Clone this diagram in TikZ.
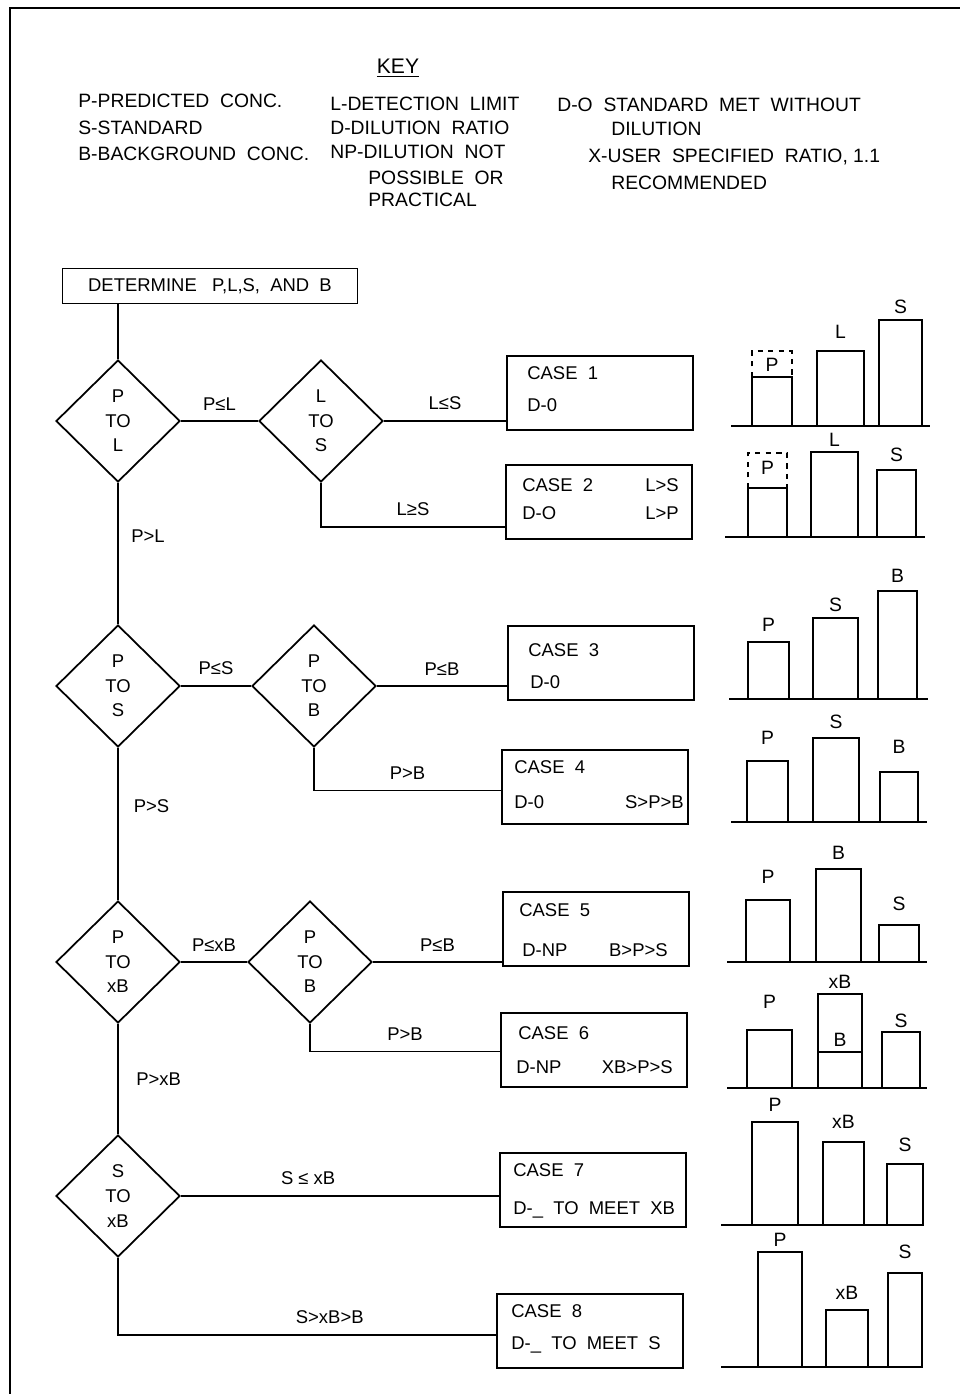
\documentclass[tikz,border=0pt]{standalone}
\usepackage{fontspec}
\setmainfont{Liberation Sans}
\usetikzlibrary{shapes.geometric,positioning}
\tikzset{
  flowline/.style={line width=1pt},
  decision/.style={draw, diamond, line width=1pt, inner sep=0pt,
    minimum width=2.48cm, minimum height=2.44cm, align=center,
    font=\fontsize{10.5}{14}\selectfont},
  casebox/.style={draw, rectangle, line width=1pt,
    minimum width=3.72cm, minimum height=1.48cm},
  txt/.style={font=\fontsize{10.5}{12}\selectfont, inner sep=0pt},
  keytxt/.style={font=\fontsize{11}{12}\selectfont, inner sep=0pt, anchor=west},
  bar/.style={line width=1pt},
}

\begin{document}
\begin{tikzpicture}[x=0.02cm, y=-0.02cm]
    \useasboundingbox (0,0) rectangle (960,1394);
    % Frame
    \draw[line width=1.6pt] (10,1394) -- (10,8) -- (960,8);
    % Key
    \node[txt, font=\fontsize{12}{14}\selectfont] (key) at (398,68) {\underline{KEY}};
    \node[keytxt] (kp) at (78,101) {P-PREDICTED\ \ CONC.};
    \node[keytxt] (ks) at (78,128) {S-STANDARD};
    \node[keytxt] (kb) at (78,154) {B-BACKGROUND\ \ CONC.};
    \node[keytxt] (kl) at (330,104) {L-DETECTION\ \ LIMIT};
    \node[keytxt] (kd) at (330,128) {D-DILUTION\ \ RATIO};
    \node[keytxt] (knp) at (330,152) {NP-DILUTION\ \ NOT};
    \node[keytxt] (knp2) at (368,178) {POSSIBLE\ \ OR};
    \node[keytxt] (knp3) at (368,200) {PRACTICAL};
    \node[keytxt] (kdo) at (557,105) {D-O\ \ STANDARD\ \ MET\ \ WITHOUT};
    \node[keytxt] (kdo2) at (611,129) {DILUTION};
    \node[keytxt] (kx) at (588,157) {X-USER\ \ SPECIFIED\ \ RATIO,\ 1.1};
    \node[keytxt] (kx2) at (611,183) {RECOMMENDED};

    % Start box
    \node[draw, line width=1pt, minimum width=5.9cm, minimum height=0.7cm, txt]
      (start) at (210,286) {DETERMINE\ \ \ P,L,S,\ \ AND\ \ B};

    % Decisions
    \node[decision] (d1) at (118,421) {P\\TO\\L};
    \node[decision] (d2) at (321,421) {L\\TO\\S};
    \node[decision] (d3) at (118,686) {P\\TO\\S};
    \node[decision] (d4) at (314,686) {P\\TO\\B};
    \node[decision] (d5) at (118,962) {P\\TO\\xB};
    \node[decision] (d6) at (310,962) {P\\TO\\B};
    \node[decision] (d7) at (118,1196) {S\\TO\\xB};

    % Case boxes
    \node[casebox] (case1) at (600,393) {};
    \node[casebox] (case2) at (599,502) {};
    \node[casebox] (case3) at (601,663) {};
    \node[casebox] (case4) at (595,787) {};
    \node[casebox] (case5) at (596,929) {};
    \node[casebox] (case6) at (594,1050) {};
    \node[casebox] (case7) at (593,1190) {};
    \node[casebox] (case8) at (590,1331) {};

    % Case texts
    \node[txt, anchor=west] (c1a) at (527,373) {CASE\ \ 1};
    \node[txt, anchor=west] (c1b) at (527,405) {D-0};
    \node[txt, anchor=west] (c2a) at (522,485) {CASE\ \ 2};
    \node[txt, anchor=east] (c2b) at (679,485) {L>S};
    \node[txt, anchor=west] (c2c) at (522,513) {D-O};
    \node[txt, anchor=east] (c2d) at (679,513) {L>P};
    \node[txt, anchor=west] (c3a) at (528,650) {CASE\ \ 3};
    \node[txt, anchor=west] (c3b) at (530,682) {D-0};
    \node[txt, anchor=west] (c4a) at (514,767) {CASE\ \ 4};
    \node[txt, anchor=west] (c4b) at (514,802) {D-0};
    \node[txt, anchor=east] (c4c) at (684,802) {S>P>B};
    \node[txt, anchor=west] (c5a) at (519,910) {CASE\ \ 5};
    \node[txt, anchor=west] (c5b) at (522,950) {D-NP};
    \node[txt, anchor=east] (c5c) at (668,950) {B>P>S};
    \node[txt, anchor=west] (c6a) at (518,1033) {CASE\ \ 6};
    \node[txt, anchor=west] (c6b) at (516,1067) {D-NP};
    \node[txt, anchor=east] (c6c) at (673,1067) {XB>P>S};
    \node[txt, anchor=west] (c7a) at (513,1170) {CASE\ \ 7};
    \node[txt, anchor=west] (c7b) at (513,1210) {D-\_\ \ TO\ \ MEET\ \ XB};
    \node[txt, anchor=west] (c8a) at (511,1311) {CASE\ \ 8};
    \node[txt, anchor=west] (c8b) at (511,1345) {D-\_\ \ TO\ \ MEET\ \ S};

    % Connectors
    \draw[flowline] (start.south -| d1.north) -- (d1.north);
    \draw[flowline] (d1.east) -- (d2.west)
      node[midway, above=0.2cm, txt] {P≤L};
    \draw[flowline] (d2.east) -- (d2.east -| case1.west)
      node[midway, above=0.2cm, txt] {L≤S};
    \draw[flowline] (d2.south) |- ([yshift=-0.5cm]case2.west)
      node[pos=0.75, above=0.2cm, txt] {L≥S};
    \draw[flowline] (d1.south) -- (d3.north)
      node[pos=0.38, right=0.25cm, txt] {P>L};
    \draw[flowline] (d3.east) -- (d4.west)
      node[midway, above=0.2cm, txt] {P≤S};
    \draw[flowline] (d4.east) -- (d4.east -| case3.west)
      node[midway, above=0.2cm, txt] {P≤B};
    \draw[flowline] (d4.south) |- ([yshift=-0.07cm]case4.west)
      node[pos=0.75, above=0.2cm, txt] {P>B};
    \draw[flowline] (d3.south) -- (d5.north)
      node[pos=0.38, right=0.3cm, txt] {P>S};
    \draw[flowline] (d5.east) -- (d6.west)
      node[midway, above=0.2cm, txt] {P≤xB};
    \draw[flowline] (d6.east) -- (d6.east -| case5.west)
      node[midway, above=0.2cm, txt] {P≤B};
    \draw[flowline] (d6.south) |- ([yshift=-0.03cm]case6.west)
      node[pos=0.75, above=0.2cm, txt] {P>B};
    \draw[flowline] (d5.south) -- (d7.north)
      node[midway, right=0.35cm, txt] {P>xB};
    \draw[flowline] (d7.east) -- (d7.east -| case7.west)
      node[pos=0.4, above=0.2cm, txt] {S ≤ xB};
    \draw[flowline] (d7.south) |- ([yshift=-0.08cm]case8.west)
      node[pos=0.78, above=0.2cm, txt] {S>xB>B};

    % Bar charts: base line, then x1/x2/top/label y/label
    \draw[bar] (731,426) -- (930,426);
    \foreach \xa/\xb/\yt/\ly/\lab in {752/792/377/365/P, 817/864/351/332/L, 879/922/320/307/S}
      \draw[bar] (\xa,426) rectangle (\xb,\yt) node[txt, font=\fontsize{11}{12}\selectfont] at ({(\xa+\xb)/2},\ly) {\lab};
    \draw[bar, dashed] (752,377) -- (752,351) -- (792,351) -- (792,377);

    \draw[bar] (725,537) -- (925,537);
    \foreach \xa/\xb/\yt/\ly/\lab in {748/787/488/468/P, 811/858/452/440/L, 877/916/470/455/S}
      \draw[bar] (\xa,537) rectangle (\xb,\yt) node[txt, font=\fontsize{11}{12}\selectfont] at ({(\xa+\xb)/2},\ly) {\lab};
    \draw[bar, dashed] (748,488) -- (748,453) -- (787,453) -- (787,488);

    \draw[bar] (729,699) -- (928,699);
    \foreach \xa/\xb/\yt/\ly/\lab in {748/789/642/625/P, 813/858/618/605/S, 878/917/591/576/B}
      \draw[bar] (\xa,699) rectangle (\xb,\yt) node[txt, font=\fontsize{11}{12}\selectfont] at ({(\xa+\xb)/2},\ly) {\lab};

    \draw[bar] (731,822) -- (927,822);
    \foreach \xa/\xb/\yt/\ly/\lab in {747/788/761/738/P, 813/859/738/722/S, 880/918/772/747/B}
      \draw[bar] (\xa,822) rectangle (\xb,\yt) node[txt, font=\fontsize{11}{12}\selectfont] at ({(\xa+\xb)/2},\ly) {\lab};

    \draw[bar] (727,962) -- (927,962);
    \foreach \xa/\xb/\yt/\ly/\lab in {746/790/900/877/P, 816/861/869/853/B, 879/919/925/904/S}
      \draw[bar] (\xa,962) rectangle (\xb,\yt) node[txt, font=\fontsize{11}{12}\selectfont] at ({(\xa+\xb)/2},\ly) {\lab};

    \draw[bar] (727,1088) -- (927,1088);
    \foreach \xa/\xb/\yt/\ly/\lab in {747/792/1030/1002/P, 818/862/994/982/xB, 882/920/1032/1021/S}
      \draw[bar] (\xa,1088) rectangle (\xb,\yt) node[txt, font=\fontsize{11}{12}\selectfont] at ({(\xa+\xb)/2},\ly) {\lab};
    \draw[bar] (818,1052) -- (862,1052);
    \node[txt, font=\fontsize{11}{12}\selectfont] (b6) at (840,1040) {B};

    \draw[bar] (721,1225) -- (923,1225);
    \foreach \xa/\xb/\yt/\ly/\lab in {752/798/1122/1105/P, 823/864/1142/1122/xB, 887/923/1164/1145/S}
      \draw[bar] (\xa,1225) rectangle (\xb,\yt) node[txt, font=\fontsize{11}{12}\selectfont] at ({(\xa+\xb)/2},\ly) {\lab};

    \draw[bar] (721,1367) -- (923,1367);
    \foreach \xa/\xb/\yt/\ly/\lab in {758/802/1252/1240/P, 826/868/1310/1293/xB, 888/922/1273/1252/S}
      \draw[bar] (\xa,1367) rectangle (\xb,\yt) node[txt, font=\fontsize{11}{12}\selectfont] at ({(\xa+\xb)/2},\ly) {\lab};
  \end{tikzpicture}
\end{document}
